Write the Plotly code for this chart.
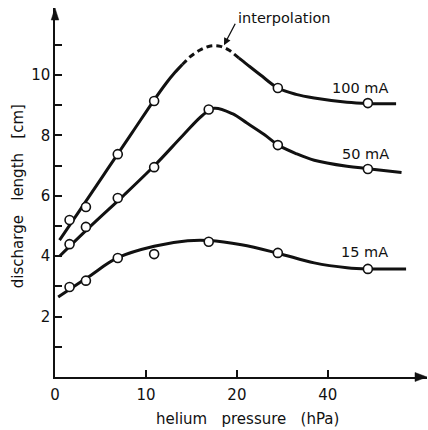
import plotly.graph_objects as go

# ---- data ----
# axis positions of the pressure readings (tick "40" sits at position 30 on the drawn axis)
pressure = [1.6, 3.4, 6.9, 10.9, 16.9, 24.5, 34.4]
pressure_100 = [1.6, 3.4, 6.9, 10.9, 24.5, 34.4]
len_100 = [5.20, 5.63, 7.38, 9.14, 9.57, 9.07]
len_50 = [4.40, 4.97, 5.93, 6.95, 8.86, 7.68, 6.89]
len_15 = [2.98, 3.19, 3.94, 4.07, 4.48, 4.11, 3.58]

# smooth hand-drawn curves (control points)
c100a_x = [0.5, 3.0, 5.7, 8.5, 10.8, 12.2, 13.2, 13.6, 14.0]
c100a_y = [4.53, 5.64, 6.85, 8.10, 9.13, 9.72, 10.09, 10.22, 10.35]
c100d_x = [14.0, 14.4, 14.8, 15.9, 17.1, 18.2, 19.2, 19.7, 20.2]
c100d_y = [10.35, 10.47, 10.59, 10.82, 10.96, 10.95, 10.81, 10.69, 10.57]
c100b_x = [20.2, 20.7, 21.2, 22.6, 24.5, 26.5, 28.5, 32.1, 34.4, 37.5]
c100b_y = [10.57, 10.45, 10.33, 10.00, 9.57, 9.36, 9.24, 9.10, 9.06, 9.05]

c50_x = [0.5, 4.0, 7.5, 11.0, 14.0, 16.2, 17.5, 19.5, 21.1, 23.0, 24.6, 26.5, 28.5, 32.1, 34.4, 38.1]
c50_y = [4.00, 5.02, 6.00, 7.02, 7.98, 8.66, 8.90, 8.72, 8.41, 8.03, 7.67, 7.40, 7.18, 6.98, 6.90, 6.77]

c15_x = [0.35, 3.6, 6.9, 10.9, 14.6, 16.9, 20.5, 24.5, 28.5, 32.1, 34.4, 38.6]
c15_y = [2.65, 3.30, 3.95, 4.33, 4.51, 4.52, 4.38, 4.10, 3.78, 3.62, 3.58, 3.58]

x_tickvals = [0, 10, 20, 30]
x_ticktext = ["0", "10", "20", "40"]
y_tickvals = list(range(1, 12))
y_ticktext = ["" if v % 2 else str(v) for v in y_tickvals]

curve_labels = ["100 mA", "50 mA", "15 mA"]
label_x = [33.5, 34.1, 34.0]
label_y = [9.57, 7.38, 4.14]

INK = "#111111"
FONT = "DejaVu Sans"
FS = 14.5

fig = go.Figure()

def curve(xs, ys, dash="solid"):
    fig.add_trace(go.Scatter(x=xs, y=ys, mode="lines",
                             line=dict(color=INK, width=3, shape="spline",
                                       smoothing=1.0, dash=dash),
                             hoverinfo="skip", showlegend=False))

curve(c100a_x, c100a_y)
curve(c100d_x, c100d_y, dash="6px,4px")
curve(c100b_x, c100b_y)
curve(c50_x, c50_y)
curve(c15_x, c15_y)

mk = dict(symbol="circle", size=9, color="white", line=dict(color=INK, width=1.6))
for xs, ys in [(pressure_100, len_100), (pressure, len_50), (pressure, len_15)]:
    fig.add_trace(go.Scatter(x=xs, y=ys, mode="markers", marker=mk,
                             showlegend=False, cliponaxis=False))

annotations = []
for t, x, y in zip(curve_labels, label_x, label_y):
    annotations.append(dict(x=x, y=y, text=t, showarrow=False,
                            font=dict(family=FONT, size=FS, color=INK)))
annotations.append(dict(x=25.2, y=11.9, text="interpolation", showarrow=False,
                        font=dict(family=FONT, size=FS, color=INK)))
annotations.append(dict(x=18.58, y=10.99, ax=19.9, ay=11.75, axref="x", ayref="y",
                        text="", showarrow=True, arrowhead=2, arrowsize=1.1,
                        arrowwidth=1.3, arrowcolor=INK))
annotations.append(dict(xref="paper", yref="paper", x=0, y=0.49, xshift=-37,
                        text="discharge\u00a0\u00a0\u00a0length\u00a0\u00a0\u00a0[cm]",
                        textangle=-90, showarrow=False, xanchor="center",
                        font=dict(family=FONT, size=15, color=INK)))
annotations.append(dict(xref="paper", yref="paper", x=0.517, y=0, yshift=-42,
                        text="helium\u00a0\u00a0\u00a0pressure\u00a0\u00a0\u00a0(hPa)",
                        showarrow=False, yanchor="middle",
                        font=dict(family=FONT, size=15, color=INK)))

shapes = [
    dict(type="path", xref="paper", yref="paper", xsizemode="pixel", ysizemode="pixel",
         xanchor=0, yanchor=1, path="M0,0 L-3.8,-12 L3.8,-12 Z",
         fillcolor=INK, line=dict(color=INK, width=0.5)),
    dict(type="path", xref="paper", yref="paper", xsizemode="pixel", ysizemode="pixel",
         xanchor=1, yanchor=0, path="M0,0 L-12,4.5 L-12,-4.5 Z",
         fillcolor=INK, line=dict(color=INK, width=0.5)),
]

fig.update_layout(
    width=428, height=430,
    margin=dict(l=55, r=1, t=8, b=53),
    paper_bgcolor="white", plot_bgcolor="white",
    annotations=annotations, shapes=shapes,
    xaxis=dict(range=[0, 40.9], showgrid=False, zeroline=False, showline=True,
               linecolor=INK, linewidth=1.5, ticks="inside", ticklen=7, tickwidth=1.5,
               tickcolor=INK, tickvals=x_tickvals, ticktext=x_ticktext,
               ticklabelstandoff=3,
               tickfont=dict(family=FONT, size=15, color=INK)),
    yaxis=dict(range=[0, 12.22], showgrid=False, zeroline=False, showline=True,
               linecolor=INK, linewidth=1.5, ticks="inside", ticklen=7, tickwidth=1.5,
               tickcolor=INK, tickvals=y_tickvals, ticktext=y_ticktext,
               ticklabelstandoff=0,
               tickfont=dict(family=FONT, size=15, color=INK)),
)

fig.write_html("out.html")
